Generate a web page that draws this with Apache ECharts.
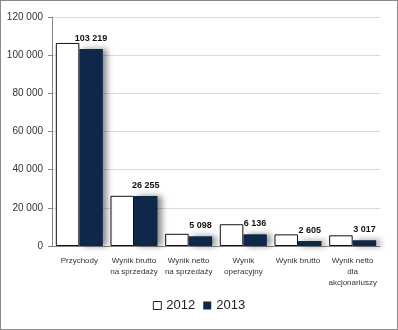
<!DOCTYPE html>
<html><head><meta charset="utf-8">
<script src="https://cdn.jsdelivr.net/npm/echarts@6/dist/echarts.min.js"></script>
<style>
html,body{margin:0;padding:0;background:#fff;}
#c{width:396px;height:328px;border:1px solid #8a8a8a;}
</style></head>
<body><div id="c"></div>
<script>
const categories = ["Przychody","Wynik brutto\nna sprzedaży","Wynik netto\nna sprzedaży","Wynik\noperacyjny","Wynik brutto","Wynik netto\ndla\nakcjonariuszy"];
const values2012 = [106400, 26300, 6400, 11400, 6100, 5600];
const values2013 = [103219, 26255, 5098, 6136, 2605, 3017];
const yTicks = [0, 20000, 40000, 60000, 80000, 100000, 120000];

const fmt = v => String(v).replace(/\B(?=(\d{3})+(?!\d))/g, ' ');
const font = '"Liberation Sans", Arial, sans-serif';
const chart = echarts.init(document.getElementById('c'));
chart.setOption({
  animation: false,
  textStyle: {fontFamily: font},
  grid: {left: 51, right: 17, top: 16, bottom: 83},
  legend: {
    bottom: 12, left: 'center', itemWidth: 8, itemHeight: 8, itemGap: 8,
    textStyle: {fontSize: 13, color: '#222', fontFamily: font},
    data: [{name: '2012', icon: 'rect', itemStyle: {color: '#fff', borderColor: '#222', borderWidth: 1}},
           {name: '2013', icon: 'rect'}]
  },
  xAxis: {
    type: 'category', data: categories,
    axisLine: {lineStyle: {color: '#868686'}},
    axisTick: {show: false},
    axisLabel: {fontSize: 8, color: '#333', lineHeight: 11, interval: 0, margin: 9}
  },
  yAxis: {
    type: 'value', min: yTicks[0], max: yTicks[yTicks.length-1], interval: 20000,
    axisLine: {show: true, lineStyle: {color: '#868686'}},
    axisTick: {show: true, length: 4, lineStyle: {color: '#868686'}},
    splitLine: {lineStyle: {color: '#d9d9d9'}},
    axisLabel: {fontSize: 10, color: '#333', formatter: v => fmt(v), margin: 9}
  },
  series: [
    {name: '2012', type: 'bar', data: values2012, barGap: '0%', barCategoryGap: '14%',
     itemStyle: {color: '#fff', borderColor: '#111', borderWidth: 1}},
    {name: '2013', type: 'bar', data: values2013,
     itemStyle: {color: '#0f2748', shadowColor: 'rgba(0,0,0,0.45)', shadowBlur: 6, shadowOffsetX: 4, shadowOffsetY: 0},
     label: {show: true, position: 'top', distance: 6, fontSize: 9, fontWeight: 'bold', color: '#111', formatter: p => fmt(p.value)}}
  ]
});
</script></body></html>
